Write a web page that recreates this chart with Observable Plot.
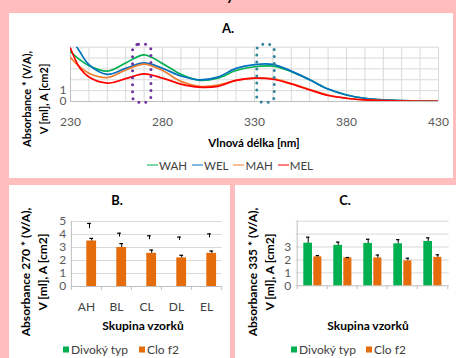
<!DOCTYPE html>
<html>
<head>
<meta charset="utf-8">
<script src="https://cdn.jsdelivr.net/npm/d3@7"></script>
<script src="https://cdn.jsdelivr.net/npm/@observablehq/plot@0.6"></script>
<style>
  html, body { margin: 0; padding: 0; }
  body { width: 456px; height: 358px; overflow: hidden; position: relative; background: #ffbdbd; font-family: Lato, "Noto Sans", sans-serif; color: #000; }
  .panel { position: absolute; background: #fff; overflow: hidden; }
  .panel svg { position: absolute; left: 0; top: 0; }
  .c { position: absolute; transform: translate(-50%, -50%); white-space: nowrap; }
  .b { font-weight: bold; }
  .ytitle { position: absolute; transform: translate(-50%, -50%) rotate(-90deg); text-align: center; font-weight: bold; white-space: nowrap; line-height: 16.5px; }
  .leg { position: absolute; display: flex; align-items: center; font-size: 12px; color: #404040; white-space: nowrap; transform: translateY(-50%); }
  .leg .ln { display: inline-block; width: 11px; height: 1.6px; margin-right: 1px; }
  .leg .sq { display: inline-block; width: 6px; height: 6px; margin-right: 2px; }
</style>
</head>
<body>
<div class="c b" style="left:230px;top:-5px;font-size:14px;">y</div>

<div id="pA" class="panel" style="left:9px;top:13px;width:444px;height:165px;">
  <div class="c b" style="left:219px;top:15px;font-size:13px;">A.</div>
  <div class="ytitle" style="left:26px;top:86px;font-size:11px;">Absorbance * (V/A),<br>V [ml], A [cm2]</div>
  <div class="c b" style="left:245px;top:129px;font-size:11.5px;">Vlnová délka [nm]</div>
  <div id="legA" class="leg" style="left:138px;top:152px;font-size:11.5px;"></div>
</div>

<div id="pB" class="panel" style="left:9px;top:185px;width:221px;height:173px;">
  <div class="c b" style="left:108px;top:15px;font-size:13px;">B.</div>
  <div class="ytitle" style="left:24.5px;top:87px;font-size:12px;">Absorbance 270 * (V/A),<br>V [ml], A [cm2]</div>
  <div class="c b" style="left:134px;top:140px;font-size:12px;">Skupina vzorků</div>
  <div id="legB" class="leg" style="left:54px;top:164px;"></div>
</div>

<div id="pC" class="panel" style="left:235px;top:185px;width:221px;height:173px;">
  <div class="c b" style="left:110px;top:15px;font-size:13px;">C.</div>
  <div class="ytitle" style="left:26.3px;top:87px;font-size:12px;">Absorbance 335 * (V/A),<br>V [ml], A [cm2]</div>
  <div class="c b" style="left:133px;top:140px;font-size:12px;">Skupina vzorků</div>
  <div id="legC" class="leg" style="left:56px;top:164px;"></div>
</div>

<script>
// ---------- Panel A data ----------
const wavelengths = [230,235,240,250,260,270,280,290,300,310,320,330,340,350,360,370,380,390,400,410,420,430];
const WAH = [4.6,3.85,3.3,2.8,3.55,4.3,3.5,2.5,1.95,2.15,2.85,3.2,3.25,2.75,2.0,1.15,0.6,0.3,0.15,0.08,0.04,0.02];
const WEL = [6.0,4.6,3.4,2.5,3.05,3.55,3.05,2.35,2.0,2.25,3.05,3.4,3.42,2.8,2.0,1.15,0.6,0.3,0.15,0.08,0.04,0.02];
const MAH = [4.05,3.2,2.6,2.2,2.9,3.45,2.85,1.85,1.4,1.5,1.95,2.15,2.1,1.65,1.1,0.6,0.3,0.15,0.08,0.04,0.02,0.01];
const MEL = [4.9,3.1,2.25,1.7,2.1,2.55,2.15,1.6,1.32,1.4,1.95,2.15,2.05,1.62,1.07,0.55,0.3,0.15,0.08,0.04,0.02,0.01];
const seriesNames = ["WAH","WEL","MAH","MEL"];
const seriesValues = [WAH, WEL, MAH, MEL];
const seriesColors = ["#00b050","#0070c0","#ed7d31","#ff0000"];
const xTicksA = [230,280,330,380,430];
const xGridA = d3.range(230, 431, 10);
const yTicksA = [0,1];
const yGridA = [1,2,3,4,5];
const highlights = [
  {x1:264, x2:274, y1:-0.12, y2:5.23, color:"#7030a0"},
  {x1:331.5, x2:341, y1:-0.12, y2:5.23, color:"#31849b"}
];

// ---------- Panel B / C data ----------
const groups = ["AH","BL","CL","DL","EL"];
const bWild = [4.45,3.8,3.6,3.55,3.75];
const bWildErr = [0.4,0.3,0.3,0.25,0.3];
const bClo = [3.5,3.0,2.55,2.2,2.55];
const bCloErr = [0.2,0.3,0.25,0.2,0.18];
const cWild = [3.3,3.13,3.28,3.25,3.43];
const cWildErr = [0.46,0.25,0.32,0.32,0.28];
const cClo = [2.24,2.16,2.16,1.93,2.2];
const cCloErr = [0.1,0.03,0.22,0.2,0.2];
const yTicksB = [0,1,2,3,4,5];
const yTicksC = [0,1,2,3];
const yGridBC = [1,2,3,4,5];
const legendBC = ["Divoký typ","Clo f2"];
const barColors = ["#00b050","#e46c0a"];

const GRID = "#d9d9d9", AXIS = "#bfbfbf", TICKTXT = "#595959";
const intFmt = d3.format("d");

// ---------- Panel A ----------
const dataA = [];
seriesNames.forEach((s, k) => wavelengths.forEach((w, i) => dataA.push({s, nm: w, v: seriesValues[k][i]})));

const plotA = Plot.plot({
  width: 444, height: 125,
  marginLeft: 61, marginRight: 15, marginTop: 33.7, marginBottom: 37,
  style: {background: "transparent", fontFamily: "Lato, 'Noto Sans', sans-serif", fontSize: "12px", overflow: "visible"},
  x: {domain: [230, 430], label: null},
  y: {domain: [0, 5], label: null},
  color: {domain: seriesNames, range: seriesColors},
  marks: [
    Plot.gridX({ticks: xGridA, stroke: GRID, strokeOpacity: 1}),
    Plot.gridY({ticks: yGridA, stroke: GRID, strokeOpacity: 1}),
    Plot.ruleX([230], {stroke: AXIS}),
    Plot.ruleY([0], {stroke: AXIS}),
    Plot.line(dataA, {x: "nm", y: "v", z: "s", stroke: "s", strokeWidth: 1.7, curve: "catmull-rom", clip: true}),
    Plot.rect(highlights, {x1: "x1", x2: "x2", y1: "y1", y2: "y2", fill: "none", stroke: d => d.color,
      strokeWidth: 3, strokeDasharray: "0 7", strokeLinecap: "round", rx: 6}),
    Plot.axisX({ticks: xTicksA, tickFormat: intFmt, tickSize: 0, tickPadding: 16, fill: TICKTXT, fontSize: 12, label: null}),
    Plot.axisY({ticks: yTicksA, tickFormat: intFmt, tickSize: 0, tickPadding: 4, fill: TICKTXT, fontSize: 12, label: null})
  ]
});
document.getElementById("pA").appendChild(plotA);

const legA = document.getElementById("legA");
seriesNames.forEach((s, k) => {
  const item = document.createElement("span");
  item.style.display = "inline-flex"; item.style.alignItems = "center"; item.style.marginRight = "5px";
  item.innerHTML = `<span class="ln" style="background:${seriesColors[k]}"></span><span>${s}</span>`;
  legA.appendChild(item);
});

// ---------- bar panel builder ----------
function barPanel(el, opts) {
  const {W, H, mL, mR, mT, mB, wild, wildErr, clo, cloErr, showWildBars, yTicks, showX, wildDx, gLeft, gRight, oLeft, oRight} = opts;
  const bw = (W - mL - mR) / groups.length;
  const data = groups.map((g, i) => ({g, wild: wild[i], wErr: wildErr[i], clo: clo[i], cErr: cloErr[i]}));
  const oDx = (oLeft + (bw - oRight)) / 2 - bw / 2;
  const capHalf = 2;
  const marks = [
    Plot.gridY({ticks: yGridBC, stroke: GRID, strokeOpacity: 1}),
    Plot.ruleY([0], {stroke: AXIS}),
    Plot.ruleX([groups[0]], {y1: -0.3, y2: 5, dx: -bw / 2, stroke: AXIS}),
    Plot.ruleX(groups.slice(1), {x: d => d, y1: 0, y2: -0.3, dx: -bw / 2, stroke: AXIS}),
    Plot.ruleX([groups[groups.length - 1]], {y1: 0, y2: -0.3, dx: bw / 2, stroke: AXIS})
  ];
  if (showWildBars) {
    marks.push(Plot.barY(data, {x: "g", y: "wild", fill: barColors[0], insetLeft: gLeft, insetRight: gRight}));
  }
  marks.push(Plot.barY(data, {x: "g", y: "clo", fill: barColors[1], insetLeft: oLeft, insetRight: oRight}));
  const errs = [[ "wild", "wErr", wildDx ], [ "clo", "cErr", oDx ]];
  for (const [k, e, dx] of errs) {
    marks.push(Plot.ruleX(data, {x: "g", y1: k, y2: d => d[k] + d[e], dx, stroke: "#000", strokeWidth: 1}));
    marks.push(Plot.tickY(data, {x: "g", y: d => d[k] + d[e], stroke: "#000", strokeWidth: 1.2,
      insetLeft: bw / 2 + dx - capHalf, insetRight: bw / 2 - dx - capHalf}));
  }
  if (showX) marks.push(Plot.axisX({tickSize: 0, tickPadding: 15.7, fill: "#404040", fontSize: 12, label: null}));
  marks.push(Plot.axisY({ticks: yTicks, tickFormat: intFmt, tickSize: 0, tickPadding: 5, fill: TICKTXT, fontSize: 12, label: null}));
  const p = Plot.plot({
    width: W, height: H, marginLeft: mL, marginRight: mR, marginTop: mT, marginBottom: mB,
    style: {background: "transparent", fontFamily: "Lato, 'Noto Sans', sans-serif", fontSize: "12px", overflow: "visible"},
    x: {type: "band", domain: groups, padding: 0, label: null, axis: showX ? undefined : null},
    y: {domain: [0, 5], label: null},
    marks
  });
  el.appendChild(p);
}

barPanel(document.getElementById("pB"), {
  W: 221, H: 135, mL: 61.7, mR: 8.3, mT: 36, mB: 34,
  wild: bWild, wildErr: bWildErr, clo: bClo, cloErr: bCloErr,
  showWildBars: false, yTicks: yTicksB, showX: true, wildDx: 3,
  gLeft: 5.3, gRight: 14.9, oLeft: 15.3, oRight: 4.9
});
barPanel(document.getElementById("pC"), {
  W: 221, H: 135, mL: 60.7, mR: 7.3, mT: 35.7, mB: 34.7,
  wild: cWild, wildErr: cWildErr, clo: cClo, cloErr: cCloErr,
  showWildBars: true, yTicks: yTicksC, showX: false, wildDx: -4.3,
  gLeft: 6.3, gRight: 15, oLeft: 16.3, oRight: 5.6
});

function legendBar(id, gap) {
  const el = document.getElementById(id);
  legendBC.forEach((s, k) => {
    const item = document.createElement("span");
    item.style.display = "inline-flex"; item.style.alignItems = "center";
    if (k === 0) item.style.marginRight = gap + "px";
    item.innerHTML = `<span class="sq" style="background:${barColors[k]}"></span><span>${s}</span>`;
    el.appendChild(item);
  });
}
legendBar("legB", 11);
legendBar("legC", 10);
</script>
</body>
</html>
